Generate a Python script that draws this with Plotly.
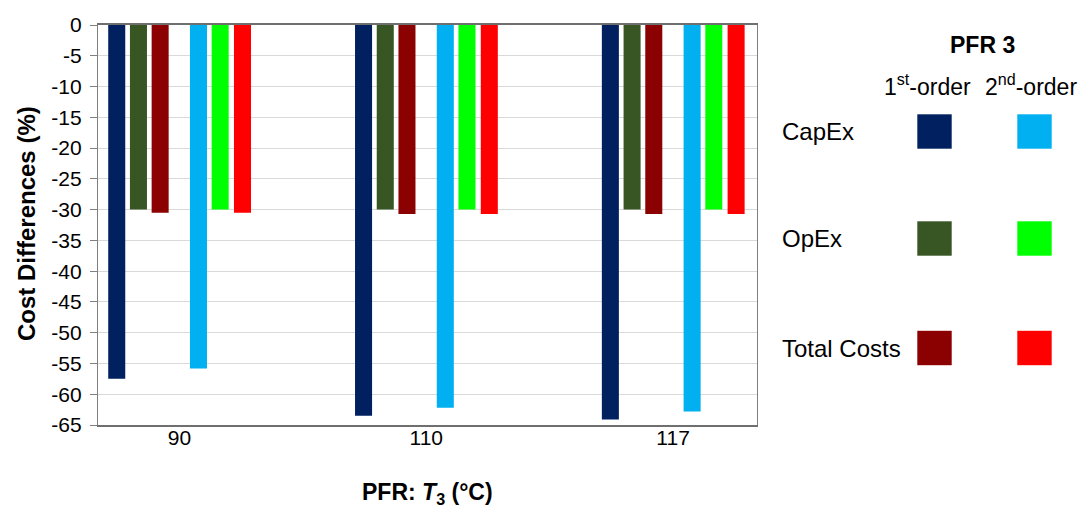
import plotly.graph_objects as go

# ---------------- data ----------------
categories = ["90", "110", "117"]
capex_1st = [-57.5, -63.5, -64.1]
opex_1st = [-30.0, -30.0, -30.0]
total_1st = [-30.5, -30.7, -30.7]
capex_2nd = [-55.8, -62.2, -62.8]
opex_2nd = [-30.0, -30.0, -30.0]
total_2nd = [-30.5, -30.7, -30.7]
y_ticks = list(range(0, -70, -5))
y_ticklabels = [str(v) for v in y_ticks]

# ---------------- styling ----------------
FONT = "Liberation Sans, Arial, sans-serif"
W, H = 1083, 509
L, R, T, B = 98, 757, 25, 425  # plot area in pixels
PW, PH = R - L, B - T


def px(x):
    return (x - L) / PW


def py(y):
    return (B - y) / PH


series = [
    ("CapEx 1st-order", capex_1st, "#002060", -0.2886),
    ("OpEx 1st-order", opex_1st, "#375623", -0.2006),
    ("Total Costs 1st-order", total_1st, "#8B0000", -0.1127),
    ("CapEx 2nd-order", capex_2nd, "#00B0F0", 0.0426),
    ("OpEx 2nd-order", opex_2nd, "#00FF00", 0.1305),
    ("Total Costs 2nd-order", total_2nd, "#FF0000", 0.2209),
]
BAR_W = 0.069

fig = go.Figure()
xpos = list(range(len(categories)))
for name, vals, color, off in series:
    fig.add_trace(go.Bar(
        x=xpos, y=vals, name=name,
        marker=dict(color=color, line=dict(width=0)),
        offset=off, width=BAR_W, showlegend=False,
    ))

fig.update_layout(
    width=W, height=H,
    margin=dict(l=L, r=W - R, t=T, b=H - B, pad=0, autoexpand=False),
    paper_bgcolor="white", plot_bgcolor="white",
    barmode="overlay",
    font=dict(family=FONT, size=21, color="#000000"),
    xaxis=dict(
        range=[-0.330, 2.340],
        tickvals=xpos, ticktext=categories,
        showgrid=False, zeroline=False,
        showline=True, linecolor="#6f6f6f", linewidth=1.5, mirror=True,
        ticks="", tickfont=dict(size=21, color="#000000"),
        ticklabelstandoff=-7,
    ),
    yaxis=dict(
        range=[-65, 0],
        tickvals=y_ticks, ticktext=y_ticklabels,
        showgrid=True, gridcolor="#d9d9d9", gridwidth=1,
        zeroline=False,
        showline=True, linecolor="#7f7f7f", linewidth=1.3, mirror=True,
        ticks="outside", ticklen=7, tickcolor="#7f7f7f", tickwidth=1,
        tickfont=dict(size=21, color="#000000"),
        ticklabelstandoff=4,
    ),
)

annotations = [
    dict(text="<b>Cost Differences (%)</b>", x=px(26), y=py(224), xref="paper", yref="paper",
         textangle=-90, showarrow=False, xanchor="center", yanchor="middle",
         font=dict(size=24, color="#000000")),
    dict(text="<b>PFR: <i>T</i><sub>3</sub> (°C)</b>", x=px(427), y=py(494), xref="paper", yref="paper",
         showarrow=False, xanchor="center", yanchor="middle",
         font=dict(size=23, color="#000000")),
    dict(text="<b>PFR 3</b>", x=px(982), y=py(45), xref="paper", yref="paper",
         showarrow=False, xanchor="center", yanchor="middle",
         font=dict(size=23, color="#000000")),
    dict(text="1<sup>st</sup>-order", x=px(927), y=py(85), xref="paper", yref="paper",
         showarrow=False, xanchor="center", yanchor="middle",
         font=dict(size=23, color="#000000")),
    dict(text="2<sup>nd</sup>-order", x=px(1031), y=py(85), xref="paper", yref="paper",
         showarrow=False, xanchor="center", yanchor="middle",
         font=dict(size=23, color="#000000")),
]

row_labels = ["CapEx", "OpEx", "Total Costs"]
row_y = [131.5, 238.5, 348]
col_x = [934.5, 1034.5]
for i, (lab, ry) in enumerate(zip(row_labels, row_y)):
    annotations.append(dict(text=lab, x=px(780), y=py(ry), xref="paper", yref="paper",
                            showarrow=False, xanchor="left", yanchor="middle",
                            font=dict(size=24, color="#000000")))

shapes = []
half = 17.5
for j, cx in enumerate(col_x):
    for i, ry in enumerate(row_y):
        color = series[j * 3 + i][2]
        shapes.append(dict(type="rect", xref="paper", yref="paper",
                           x0=px(cx - half), x1=px(cx + half),
                           y0=py(ry + half), y1=py(ry - half),
                           fillcolor=color, line=dict(width=1, color="rgba(255,255,255,0.6)")))

fig.update_layout(annotations=annotations, shapes=shapes)
fig.write_html("out.html", config={"displayModeBar": False},
               post_script="document.body.style.margin='0';")
